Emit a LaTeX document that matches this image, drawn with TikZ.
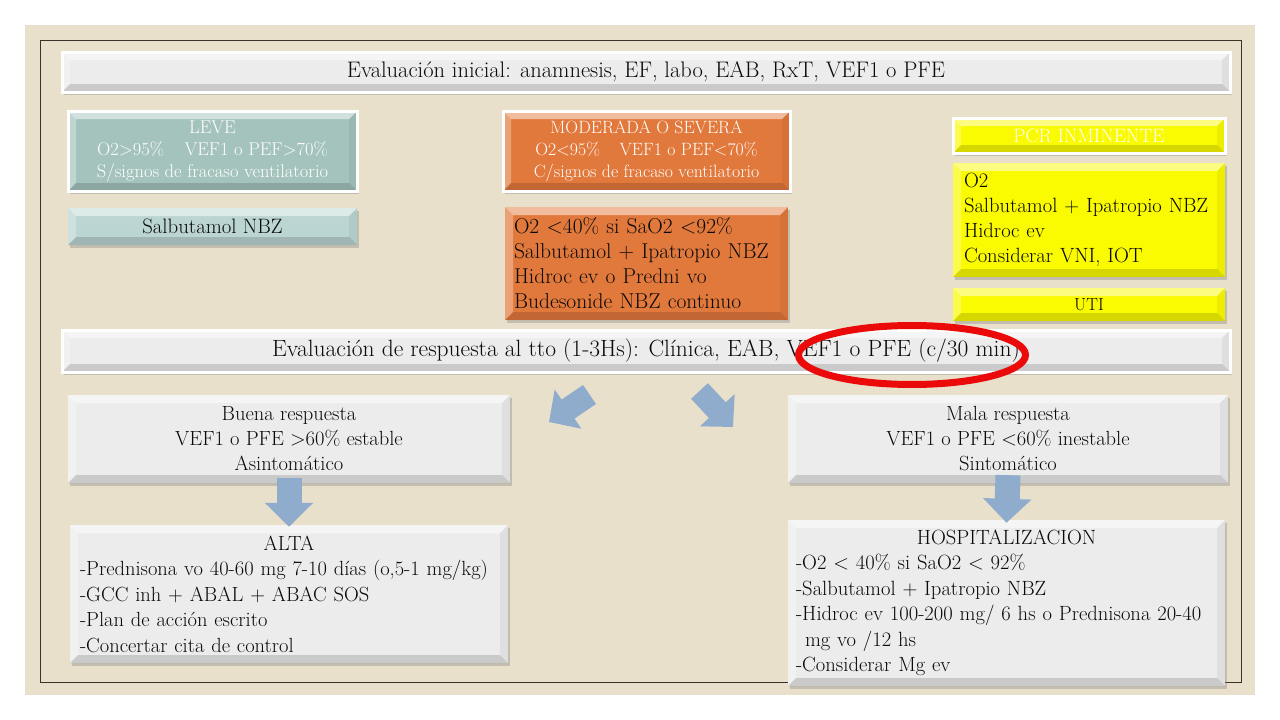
\documentclass[tikz,border=0pt]{standalone}
\usetikzlibrary{shadows,shapes.geometric,arrows.meta,calc}
\definecolor{bg}{RGB}{232,224,203}
\definecolor{frameline}{RGB}{60,50,40}
\definecolor{boxgray}{RGB}{236,236,236}
\definecolor{teal1}{RGB}{164,195,189}
\definecolor{teal2}{RGB}{186,213,210}
\definecolor{orng}{RGB}{226,121,60}
\definecolor{yell}{RGB}{250,250,0}
\definecolor{arrblue}{RGB}{143,172,204}
\definecolor{hlred}{RGB}{235,10,10}
\definecolor{txt}{RGB}{10,10,10}
\newcommand\fsz[2]{\fontsize{#1}{#2}\selectfont}
\begin{document}
\begin{tikzpicture}[x=1pt,y=-1pt,
  bev/.style={path picture={
    \coordinate (pnw) at (path picture bounding box.north west);
    \coordinate (pne) at (path picture bounding box.north east);
    \coordinate (psw) at (path picture bounding box.south west);
    \coordinate (pse) at (path picture bounding box.south east);
    \fill[white,opacity=.5] (pnw) -- (pne) -- ($(pne)+(-8,8)$) -- ($(pnw)+(8,8)$) -- cycle;
    \fill[white,opacity=.3] (pnw) -- ($(pnw)+(8,8)$) -- ($(psw)+(8,-8)$) -- (psw) -- cycle;
    \fill[black,opacity=.05] (pne) -- (pse) -- ($(pse)+(-8,-8)$) -- ($(pne)+(-8,8)$) -- cycle;
    \fill[black,opacity=.14] (psw) -- (pse) -- ($(pse)+(-8,-8)$) -- ($(psw)+(8,-8)$) -- cycle;
  }},
  box/.style={inner sep=0pt, bev, text=txt,
    drop shadow={shadow xshift=2pt,shadow yshift=-3pt,opacity=.35}},
  wb/.style={draw=white, line width=3pt},
  lbox/.style={box, align=left, inner xsep=10pt},
  barrow/.style={draw=arrblue, line width=25pt, -{Triangle[length=24pt,width=47pt]}},
  darrow/.style={draw=arrblue, line width=23pt, -{Triangle[length=23pt,width=46pt]}}
]
\useasboundingbox (0,0) rectangle (1280,720);
\fill[white] (0,0) rectangle (1280,720);
\fill[bg] (25,25) rectangle (1255,695);
\draw[frameline, line width=1pt] (40,40) rectangle (1241,682);

% top row
\node[box, wb, fill=boxgray, minimum width=1168pt, minimum height=40pt, font=\fsz{22.5}{26}]
  (init) at (646,72) {Evaluación inicial: anamnesis, EF, labo, EAB, RxT, VEF1 o PFE};

\node[box, wb, fill=teal1, text=white, align=center, minimum width=289pt, minimum height=80pt, font=\fsz{18.5}{22}]
  (leve) at (212.5,151) {LEVE\\O2>95\%\hspace{1.1em}VEF1 o PEF>70\%\\S/signos de fracaso ventilatorio};
\node[box, fill=teal2, minimum width=289pt, minimum height=37pt, font=\fsz{20.8}{24}]
  (salb) at (212.5,226.5) {Salbutamol NBZ};

\node[box, wb, fill=orng, text=white, align=center, minimum width=287pt, minimum height=80pt, font=\fsz{17.8}{22}]
  (mod) at (646.5,151) {MODERADA O SEVERA\\O2<95\%\hspace{1.1em}VEF1 o PEF<70\%\\C/signos de fracaso ventilatorio};
\node[lbox, fill=orng, text width=265pt, inner xsep=9pt, minimum height=113pt, font=\fsz{21.5}{25}]
  (modtx) at (646.5,263.5) {O2 <40\% si SaO2 <92\%\\Salbutamol + Ipatropio NBZ\\Hidroc ev o Predni vo\\Budesonide NBZ continuo};

\node[box, wb, fill=yell, text=white, minimum width=272pt, minimum height=35pt, font=\fsz{19.4}{21}]
  (pcr) at (1089,135.5) {PCR INMINENTE};
\node[lbox, fill=yell, inner xsep=11pt, text width=250pt, minimum height=114pt, font=\fsz{20.6}{25}]
  (pcrtx) at (1089,220) {O2\\Salbutamol + Ipatropio NBZ\\Hidroc ev\\Considerar VNI, IOT};
\node[box, fill=yell, minimum width=272pt, minimum height=33pt, font=\fsz{17.5}{20}]
  (uti) at (1089,304.5) {UTI};

% response evaluation
\node[box, wb, fill=boxgray, minimum width=1168pt, minimum height=42pt, font=\fsz{23.5}{26}]
  (resp) at (646,351) {Evaluación de respuesta al tto (1-3Hs): Clínica, EAB, VEF1 o PFE (c/30 min)};

\node[box, fill=boxgray, align=center, minimum width=442pt, minimum height=88pt, font=\fsz{20.5}{25}]
  (buena) at (289,439) {Buena respuesta\\VEF1 o PFE >60\% estable\\Asintomático};
\node[box, fill=boxgray, align=center, minimum width=440pt, minimum height=88pt, font=\fsz{20.5}{25}]
  (mala) at (1008,439) {Mala respuesta\\VEF1 o PFE <60\% inestable\\Sintomático};

\node[lbox, fill=boxgray, text width=418pt, minimum height=138pt, font=\fsz{20.5}{25.5}]
  (alta) at (289,594) {\makebox[\linewidth][c]{ALTA}\\-Prednisona vo 40-60 mg 7-10 días (o,5-1 mg/kg)\\-GCC inh + ABAL + ABAC SOS\\-Plan de acción escrito\\-Concertar cita de control};
\node[lbox, fill=boxgray, inner xsep=8pt, text width=421pt, minimum height=166pt, font=\fsz{20.6}{25.5}]
  (hosp) at (1006.5,603) {\makebox[\linewidth][c]{HOSPITALIZACION}\\-O2 < 40\% si SaO2 < 92\%\\-Salbutamol + Ipatropio NBZ\\-Hidroc ev 100-200 mg/ 6 hs o Prednisona 20-40\\\hspace*{9pt}mg vo /12 hs\\-Considerar Mg ev};

% arrows
\coordinate (la0) at (589.5,394.5);
\coordinate (la1) at (549,422);
\coordinate (ra0) at (699.5,391);
\coordinate (ra1) at (733,427);
\draw[darrow] (la0) -- (la1);
\draw[darrow] (ra0) -- (ra1);
\draw[barrow] ([yshift=5pt]buena.south) -- ([yshift=-2pt]alta.north);
\draw[barrow] ([yshift=8pt]mala.south) -- ([yshift=-3pt]hosp.north);

% highlight
\node[draw=hlred, line width=7pt, ellipse, inner sep=0pt, minimum width=227pt, minimum height=59pt]
  (hl) at (912,355) {};
\end{tikzpicture}
\end{document}
